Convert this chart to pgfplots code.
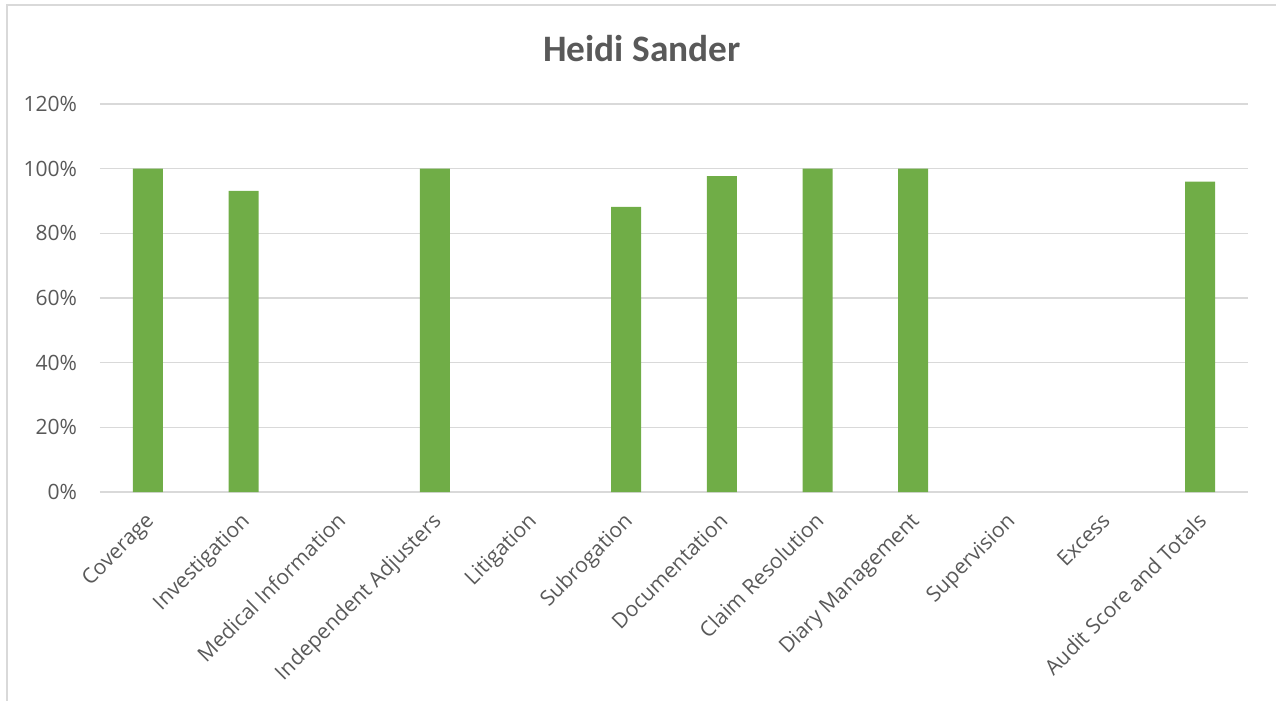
\documentclass[border=0pt]{standalone}
\usepackage{pgfplots}
\pgfplotsset{compat=1.18}
\usepackage{fontspec}
\setmainfont{Open Sans}
\newfontfamily\titlefont{Carlito}
\definecolor{barGreen}{HTML}{70AD47}
\definecolor{gridGray}{HTML}{D9D9D9}
\definecolor{textGray}{HTML}{595959}
\begin{document}
\begin{tikzpicture}
% page: 1276 x 700 px at 0.75 pt/px, (0,0) at the lower-left of the plot area
\useasboundingbox (-75pt,-156pt) rectangle (882pt,369pt);
\draw[gridGray, line width=1.5pt] (-70.1pt,-200pt) -- (-70.1pt,364.9pt) -- (900pt,364.9pt);
\node[anchor=base, font=\titlefont\fontsize{28}{32}\selectfont\bfseries, text=textGray, inner sep=0pt]
  at (406.5pt,322.5pt) {Heidi Sander};
\begin{axis}[
  at={(0pt,0pt)}, anchor=south west,
  scale only axis, width=861pt, height=291pt,
  xmin=-0.5, xmax=11.5, ymin=0, ymax=120,
  ybar, bar width=22.5pt, bar shift=0pt,
  axis line style={draw=none},
  ymajorgrids, grid style={gridGray, line width=1.1pt},
  major tick length=0pt,
  ytick={0,20,...,120},
  yticklabel={\pgfmathprintnumber{\tick}\%},
  yticklabel style={anchor=east, inner sep=0pt, xshift=-17pt},
  xtick={0,...,11},
  xticklabels={Coverage, Investigation, Medical Information, Independent Adjusters,
    Litigation, Subrogation, Documentation, Claim Resolution, Diary Management,
    Supervision, Excess, Audit Score and Totals},
  xticklabel style={xshift=-2.9pt, yshift=-14.2pt, rotate=45, anchor=north east, inner sep=0pt},
  tick label style={font=\fontsize{15.8}{19}\selectfont, text=textGray},
  /pgf/number format/assume math mode=true,
  clip=false,
]
% categories without a score are left empty
\addplot[fill=barGreen, draw=none] coordinates {
  (0,100) (1,93.1) (3,100) (5,88.2)
  (6,97.7) (7,100) (8,100) (11,96.0)
};
\end{axis}
\end{tikzpicture}
\end{document}
